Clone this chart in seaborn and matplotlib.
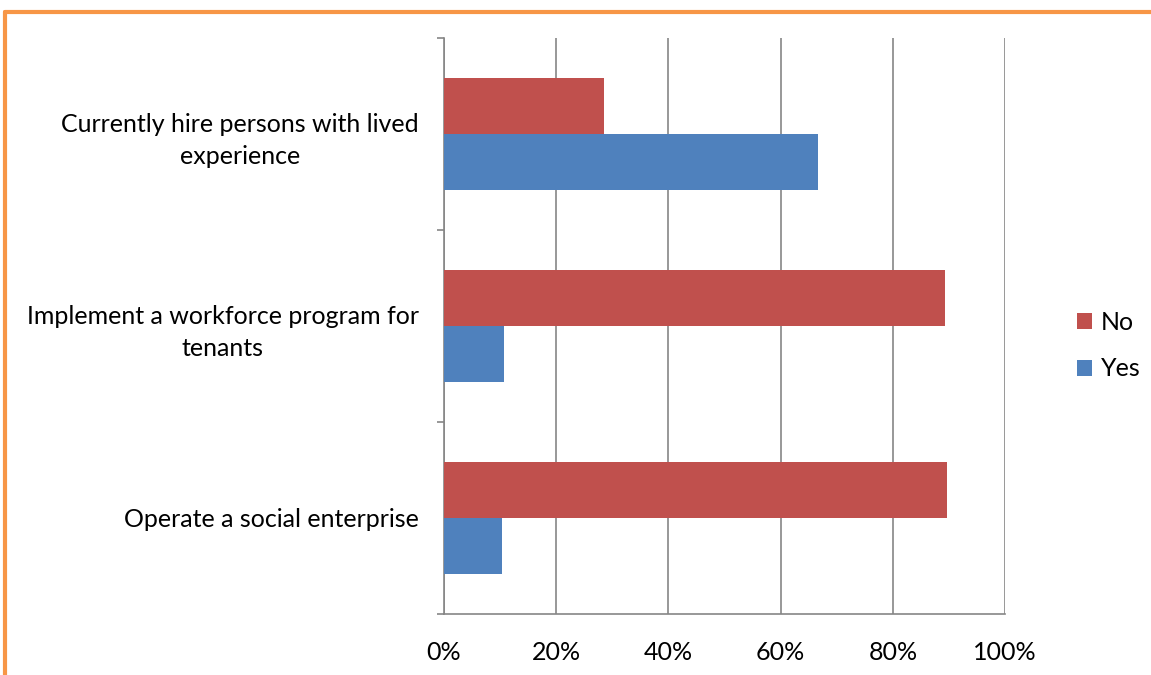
"""
Survey: share of respondents answering No / Yes for three workforce questions.
Horizontal grouped bars, Excel-like styling.
"""
import numpy as np
import pandas as pd
import seaborn as sns
from matplotlib import pyplot as plt
from matplotlib.lines import Line2D
from matplotlib.ticker import FixedLocator, PercentFormatter

# data
questions = [
    "Currently hire persons with lived\nexperience",
    "Implement a workforce program for\ntenants",
    "Operate a social enterprise",
]
answers = ["No", "Yes"]
no_share = [0.286, 0.893, 0.897]
yes_share = [0.667, 0.107, 0.103]
x_ticks = [0, 0.2, 0.4, 0.6, 0.8, 1.0]

bar_colors = {"No": "#C0504D", "Yes": "#4F81BD"}
grid_color = "#868686"
frame_color = "#F79646"

df = pd.DataFrame({
    "question": questions * 2,
    "answer": ["No"] * len(questions) + ["Yes"] * len(questions),
    "share": no_share + yes_share,
})

sns.set_style("white")
plt.rcParams["font.family"] = ["Lato", "DejaVu Sans"]
plt.rcParams["font.size"] = 18
plt.rcParams["text.color"] = "black"
plt.rcParams["xtick.labelcolor"] = "black"
plt.rcParams["ytick.labelcolor"] = "black"

fig = plt.figure(figsize=(11.51, 6.75), dpi=100)
ax = fig.add_axes([0.3857, 0.0904, 0.8732 - 0.3857, 0.9437 - 0.0904])

sns.barplot(data=df, y="question", x="share", hue="answer",
            order=questions, hue_order=answers, palette=bar_colors,
            orient="h", width=0.58, gap=0, saturation=1,
            linewidth=0, ax=ax, zorder=3)

# axes look
ax.set_xlim(0, 1)
ax.set_ylim(2.5, -0.5)
ax.xaxis.set_major_locator(FixedLocator(x_ticks))
ax.xaxis.set_major_formatter(PercentFormatter(1.0, decimals=0))
ax.grid(axis="x", color=grid_color, linewidth=1.2, zorder=0)
ax.grid(axis="y", visible=False)
for side in ["top", "right"]:
    ax.spines[side].set_visible(False)
for side in ["left", "bottom"]:
    ax.spines[side].set_color(grid_color)
    ax.spines[side].set_linewidth(1.2)

ax.set_xlabel("")
ax.set_ylabel("")
ax.tick_params(axis="x", which="major", direction="out", length=6.5,
               width=1.2, color=grid_color, pad=13, labelsize=18)
ax.yaxis.set_minor_locator(FixedLocator([-0.5, 0.5, 1.5, 2.5]))
ax.tick_params(axis="y", which="major", length=0, pad=18, labelsize=18)
ax.tick_params(axis="y", which="minor", direction="out", length=5,
               width=1.2, color=grid_color, left=True)
for lab in ax.get_yticklabels():
    lab.set_multialignment("center")
    lab.set_linespacing(1.5)

# legend
handles, labels = ax.get_legend_handles_labels()
ax.legend(handles, labels, loc="center left", bbox_to_anchor=(0.916, 0.488),
          bbox_transform=fig.transFigure, frameon=False, fontsize=18,
          handlelength=0.6, handleheight=0.6, handletextpad=0.35,
          labelspacing=0.95)

# orange frame (top and left only, as in the cropped screenshot)
fig.add_artist(Line2D([0.0045, 1.0], [0.9815, 0.9815], color=frame_color,
                      linewidth=3, transform=fig.transFigure))
fig.add_artist(Line2D([0.0045, 0.0045], [0.0, 0.9815], color=frame_color,
                      linewidth=3, transform=fig.transFigure))

fig.savefig("out.png", dpi=100)
